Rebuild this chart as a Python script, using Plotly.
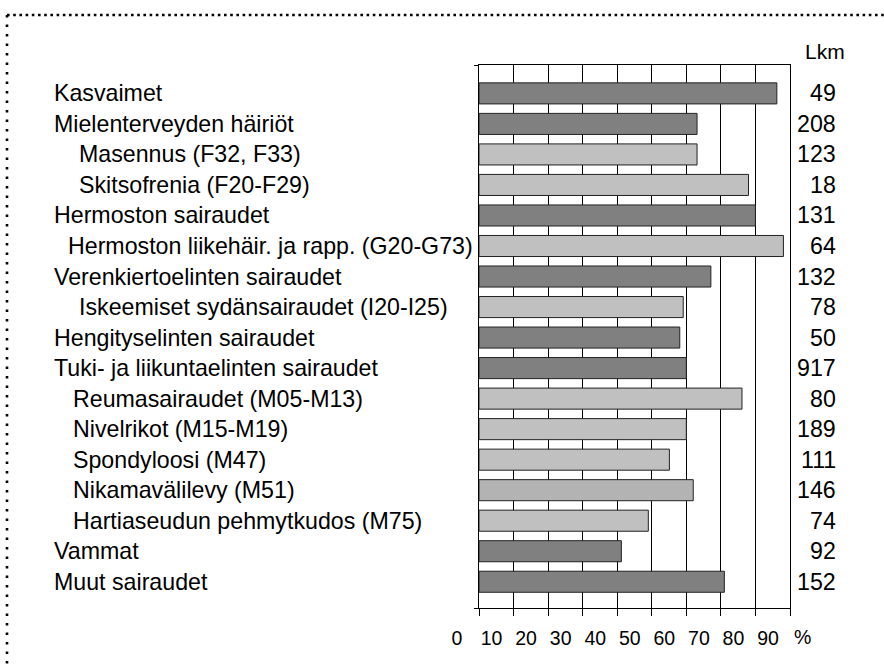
import plotly.graph_objects as go

categories = [
    "Kasvaimet",
    "Mielenterveyden häiriöt",
    "Masennus (F32, F33)",
    "Skitsofrenia (F20-F29)",
    "Hermoston sairaudet",
    "Hermoston liikehäir. ja rapp. (G20-G73)",
    "Verenkiertoelinten sairaudet",
    "Iskeemiset sydänsairaudet (I20-I25)",
    "Hengityselinten sairaudet",
    "Tuki- ja liikuntaelinten sairaudet",
    "Reumasairaudet (M05-M13)",
    "Nivelrikot (M15-M19)",
    "Spondyloosi (M47)",
    "Nikamavälilevy (M51)",
    "Hartiaseudun pehmytkudos (M75)",
    "Vammat",
    "Muut sairaudet",
]
values = [86.2, 63.1, 63.1, 78.0, 80.0, 88.1, 67.1, 59.1, 58.1, 60.0,
          76.1, 60.0, 55.1, 62.0, 49.0, 41.2, 71.0]
counts = [49, 208, 123, 18, 131, 64, 132, 78, 50, 917, 80, 189, 111, 146, 74, 92, 152]
groups = ["main", "main", "sub", "sub", "main", "sub2", "main", "sub", "main", "main",
          "sub3", "sub3", "sub3", "sub4", "sub3", "main", "main"]
tick_values = [0, 10, 20, 30, 40, 50, 60, 70, 80, 90]
tick_labels = ["0", "10", "20", "30", "40", "50", "60", "70", "80", "90"]
unit_label = "%"
unit_position = 100
count_header = "Lkm"

# ---- styling ----
FONT = "Liberation Sans, Arial, sans-serif"
colors = {"main": "#808080", "sub": "#c0c0c0", "sub2": "#c0c0c0",
          "sub3": "#c0c0c0", "sub4": "#b3b3b3"}
indent_px = {"main": 52, "sub": 77, "sub2": 66, "sub3": 71, "sub4": 71}
LABEL_SIZE = 23.2
TICK_SIZE = 19.5
TICK_SHIFT = -22

W, H = 884, 664
L, R, T, B = 479, 94, 65, 56
pw = W - L - R
ph = H - T - B
XRANGE = [0, 90]

def px_to_paper_x(px):
    return (px - L) / pw

def px_to_paper_y(py):
    return (H - B - py) / ph

def val_to_paper_x(v):
    return (v - XRANGE[0]) / (XRANGE[1] - XRANGE[0])

ypos = list(range(len(categories)))
yrange = [len(categories) - 1 + 0.86, -0.93]

fig = go.Figure()
fig.add_trace(go.Bar(
    x=values, y=ypos, orientation="h",
    marker=dict(color=[colors[g] for g in groups], line=dict(color="#222222", width=1)),
    width=0.69, hoverinfo="skip",
))

annotations = []
for i, (cat, g) in enumerate(zip(categories, groups)):
    annotations.append(dict(
        x=px_to_paper_x(indent_px[g]), xref="paper", y=i, yref="y",
        text=cat, showarrow=False, xanchor="left", yanchor="middle",
        font=dict(family=FONT, size=LABEL_SIZE, color="black"),
    ))
for i, c in enumerate(counts):
    annotations.append(dict(
        x=px_to_paper_x(838), xref="paper", y=i, yref="y",
        text=str(c), showarrow=False, xanchor="right", yanchor="middle",
        font=dict(family=FONT, size=LABEL_SIZE, color="black"),
    ))
annotations.append(dict(
    x=px_to_paper_x(847), xref="paper", y=px_to_paper_y(51), yref="paper",
    text=count_header, showarrow=False, xanchor="right", yanchor="middle",
    font=dict(family=FONT, size=21, color="black"),
))
annotations.append(dict(
    x=val_to_paper_x(unit_position), xref="paper", xshift=TICK_SHIFT,
    y=px_to_paper_y(637), yref="paper",
    text=unit_label, showarrow=False, xanchor="center", yanchor="middle",
    font=dict(family=FONT, size=TICK_SIZE, color="black"),
))

border_left, border_top = 7, 15
shapes = [
    dict(type="line", xref="paper", yref="paper",
         x0=px_to_paper_x(border_left), x1=px_to_paper_x(W + 10),
         y0=px_to_paper_y(border_top), y1=px_to_paper_y(border_top),
         line=dict(color="black", width=2.6, dash="2.6px,3.6px"), layer="below"),
    dict(type="line", xref="paper", yref="paper",
         x0=px_to_paper_x(border_left), x1=px_to_paper_x(border_left),
         y0=px_to_paper_y(border_top), y1=px_to_paper_y(H + 10),
         line=dict(color="black", width=2.6, dash="2.6px,6.9px"), layer="below"),
]

fig.update_layout(
    width=W, height=H,
    margin=dict(l=L, r=R, t=T, b=B, pad=0),
    paper_bgcolor="white", plot_bgcolor="white",
    showlegend=False,
    annotations=annotations,
    shapes=shapes,
    xaxis=dict(
        range=XRANGE, tickvals=tick_values, ticktext=tick_labels,
        showgrid=True, gridcolor="black", gridwidth=1,
        showline=True, linecolor="black", linewidth=1, mirror=True,
        ticks="outside", ticklen=7, tickcolor="black", tickwidth=1,
        ticklabelshift=TICK_SHIFT, ticklabelstandoff=6,
        tickfont=dict(family=FONT, size=TICK_SIZE, color="black"),
        zeroline=False, fixedrange=True,
    ),
    yaxis=dict(
        range=yrange, tickvals=yrange, ticktext=["", ""],
        showgrid=False, zeroline=False,
        showline=True, linecolor="black", linewidth=1, mirror=True,
        ticks="outside", ticklen=4, tickcolor="black",
        fixedrange=True,
    ),
)

fig.write_html(
    "out.html",
    config={"displayModeBar": False, "staticPlot": True},
    post_script="document.body.style.margin='0';document.body.style.overflow='hidden';",
)
